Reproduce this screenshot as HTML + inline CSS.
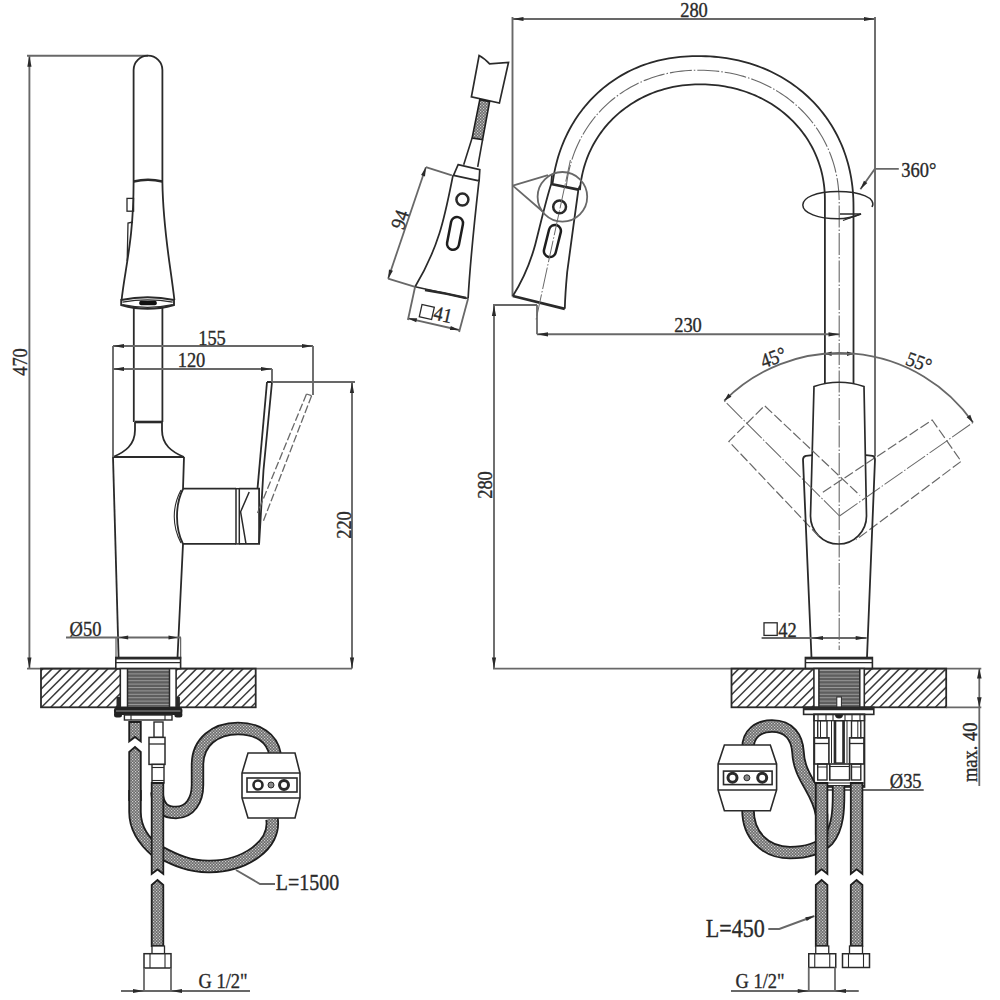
<!DOCTYPE html>
<html><head><meta charset="utf-8"><style>
html,body{margin:0;padding:0;background:#fff;width:1000px;height:1000px;overflow:hidden}
svg{display:block}
</style></head><body>
<svg width="1000" height="1000" viewBox="0 0 1000 1000">
<rect width="1000" height="1000" fill="#fff"/>
<defs><pattern id="knit" width="3" height="3" patternUnits="userSpaceOnUse"><rect width="3" height="3" fill="#6c6c6c"/><rect x="0" y="0" width="1.2" height="1.2" fill="#d0d0d0"/><rect x="1.5" y="1.5" width="1.2" height="1.2" fill="#d0d0d0"/></pattern></defs>
<line x1="29.40" y1="55.80" x2="29.40" y2="668.60" stroke="#686868" stroke-width="1.9" stroke-linecap="butt"/>
<path d="M29.40,55.80 L31.50,66.80 L27.30,66.80 Z" fill="#2a2a2a"/>
<path d="M29.40,668.60 L27.30,657.60 L31.50,657.60 Z" fill="#2a2a2a"/>
<line x1="27.00" y1="55.80" x2="148.00" y2="55.80" stroke="#686868" stroke-width="1.9" stroke-linecap="butt"/>
<line x1="27.00" y1="668.60" x2="352.00" y2="668.60" stroke="#686868" stroke-width="1.9" stroke-linecap="butt"/>
<text transform="translate(20.00,362.00) rotate(-90) scale(0.9,1)" x="0" y="6.97" font-family="Liberation Serif" font-size="20.5" fill="#2a2a2a" stroke="#2a2a2a" stroke-width="0.35" text-anchor="middle">470</text>
<path d="M133.6,182 L133.6,70 A14.4,14.4 0 0 1 162.4,70 L162.4,182" stroke="#2a2a2a" stroke-width="1.8" fill="none" />
<path d="M133.6,181.5 Q148,178 162.4,181.5" stroke="#2a2a2a" stroke-width="2.6" fill="none" />
<path d="M133.6,182 C133.6,240 125,268 121.6,300" stroke="#2a2a2a" stroke-width="1.8" fill="none" />
<path d="M162.4,182 C163,230 170,262 174.4,300" stroke="#2a2a2a" stroke-width="1.8" fill="none" />
<rect x="127.00" y="198.40" width="6.60" height="12.80" rx="0" stroke="#2a2a2a" stroke-width="1.3" fill="none"/>
<path d="M133,222 L128,223 L127.2,261" stroke="#2a2a2a" stroke-width="1.3" fill="none" />
<path d="M121.2,300 Q147.6,294.4 174,300 L174,305 Q147.6,312.6 121.2,305 Z" stroke="#2a2a2a" stroke-width="1.9" fill="none" />
<path d="M122.5,302.2 Q147.6,297.6 172.7,302.2" stroke="#2a2a2a" stroke-width="1.3" fill="none" />
<path d="M122.5,304.6 Q147.6,310 172.7,304.6" stroke="#2a2a2a" stroke-width="1.3" fill="none" />
<rect x="139.20" y="300.80" width="17.60" height="4.40" rx="2" stroke="#2a2a2a" stroke-width="0" fill="#111"/>
<line x1="133.80" y1="308.00" x2="133.80" y2="422.00" stroke="#2a2a2a" stroke-width="1.8" stroke-linecap="butt"/>
<line x1="162.40" y1="308.00" x2="162.40" y2="422.00" stroke="#2a2a2a" stroke-width="1.8" stroke-linecap="butt"/>
<line x1="135.00" y1="422.00" x2="162.00" y2="422.00" stroke="#2a2a2a" stroke-width="2.6" stroke-linecap="butt"/>
<path d="M135,422 L135,430 C135,445 125,452 113,457" stroke="#2a2a2a" stroke-width="1.8" fill="none" />
<path d="M162,422 L162,430 C162,445 172,452 184,457" stroke="#2a2a2a" stroke-width="1.8" fill="none" />
<line x1="113.00" y1="457.00" x2="184.00" y2="457.00" stroke="#2a2a2a" stroke-width="1.8" stroke-linecap="butt"/>
<path d="M113,457 L118.6,657.5" stroke="#2a2a2a" stroke-width="1.8" fill="none" />
<path d="M184,457 L183,489 C175,505 175,528 183,544 L177.5,657.5" stroke="#2a2a2a" stroke-width="1.8" fill="none" />
<path d="M181,490 C172,507 172,526 181,543" stroke="#2a2a2a" stroke-width="1.1" fill="none" />
<line x1="183.00" y1="488.70" x2="236.00" y2="488.70" stroke="#2a2a2a" stroke-width="1.8" stroke-linecap="butt"/>
<line x1="183.00" y1="543.90" x2="236.00" y2="543.90" stroke="#2a2a2a" stroke-width="1.8" stroke-linecap="butt"/>
<rect x="236.00" y="488.70" width="3.30" height="55.20" rx="0" stroke="#2a2a2a" stroke-width="1.5" fill="none"/>
<path d="M239.3,488.7 L259.1,488.7 L259.1,543.9 L239.3,543.9" stroke="#2a2a2a" stroke-width="1.8" fill="none" />
<path d="M249.2,492 L240.6,511.8 L246,543.9" stroke="#2a2a2a" stroke-width="1.5" fill="none" />
<path d="M267,382 L272,382 L263.5,470 L259.1,543.9" stroke="#2a2a2a" stroke-width="1.8" fill="none" />
<path d="M267,382 L257.5,488.7" stroke="#2a2a2a" stroke-width="1.8" fill="none" />
<line x1="311.60" y1="395.70" x2="263.00" y2="522.00" stroke="#686868" stroke-width="1.3" stroke-dasharray="8,2.5" stroke-linecap="butt"/>
<line x1="306.50" y1="394.00" x2="257.50" y2="513.00" stroke="#686868" stroke-width="1.3" stroke-dasharray="8,2.5" stroke-linecap="butt"/>
<path d="M306.5,394 L311.6,395.7" stroke="#686868" stroke-width="1.3" fill="none" />
<line x1="113.00" y1="346.00" x2="113.00" y2="457.00" stroke="#686868" stroke-width="1.9" stroke-linecap="butt"/>
<line x1="113.00" y1="346.00" x2="313.00" y2="346.00" stroke="#686868" stroke-width="1.9" stroke-linecap="butt"/>
<path d="M113.00,346.00 L124.00,343.90 L124.00,348.10 Z" fill="#2a2a2a"/>
<path d="M313.00,346.00 L302.00,348.10 L302.00,343.90 Z" fill="#2a2a2a"/>
<line x1="113.00" y1="369.00" x2="272.00" y2="369.00" stroke="#686868" stroke-width="1.9" stroke-linecap="butt"/>
<path d="M113.00,369.00 L124.00,366.90 L124.00,371.10 Z" fill="#2a2a2a"/>
<path d="M272.00,369.00 L261.00,371.10 L261.00,366.90 Z" fill="#2a2a2a"/>
<line x1="313.00" y1="346.00" x2="313.00" y2="395.00" stroke="#686868" stroke-width="1.9" stroke-linecap="butt"/>
<line x1="272.00" y1="369.00" x2="272.00" y2="382.00" stroke="#686868" stroke-width="1.9" stroke-linecap="butt"/>
<text transform="translate(212.00,338.00) rotate(0) scale(0.9,1)" x="0" y="6.97" font-family="Liberation Serif" font-size="20.5" fill="#2a2a2a" stroke="#2a2a2a" stroke-width="0.35" text-anchor="middle">155</text>
<text transform="translate(191.50,360.50) rotate(0) scale(0.9,1)" x="0" y="6.97" font-family="Liberation Serif" font-size="20.5" fill="#2a2a2a" stroke="#2a2a2a" stroke-width="0.35" text-anchor="middle">120</text>
<line x1="272.00" y1="382.00" x2="355.00" y2="382.00" stroke="#686868" stroke-width="1.9" stroke-linecap="butt"/>
<line x1="352.00" y1="382.00" x2="352.00" y2="668.40" stroke="#686868" stroke-width="1.9" stroke-linecap="butt"/>
<path d="M352.00,382.00 L354.10,393.00 L349.90,393.00 Z" fill="#2a2a2a"/>
<path d="M352.00,668.40 L349.90,657.40 L354.10,657.40 Z" fill="#2a2a2a"/>
<text transform="translate(344.00,525.00) rotate(-90) scale(0.9,1)" x="0" y="6.97" font-family="Liberation Serif" font-size="20.5" fill="#2a2a2a" stroke="#2a2a2a" stroke-width="0.35" text-anchor="middle">220</text>
<line x1="66.00" y1="637.50" x2="181.00" y2="637.50" stroke="#686868" stroke-width="1.9" stroke-linecap="butt"/>
<path d="M119.20,637.50 L128.20,635.40 L128.20,639.60 Z" fill="#2a2a2a"/>
<path d="M177.50,637.50 L168.50,639.60 L168.50,635.40 Z" fill="#2a2a2a"/>
<line x1="116.00" y1="637.50" x2="116.00" y2="659.00" stroke="#686868" stroke-width="1.3" stroke-linecap="butt"/>
<line x1="180.60" y1="637.50" x2="180.60" y2="659.00" stroke="#686868" stroke-width="1.3" stroke-linecap="butt"/>
<text transform="translate(85.50,628.60) rotate(0) scale(0.9,1)" x="0" y="6.97" font-family="Liberation Serif" font-size="20.5" fill="#2a2a2a" stroke="#2a2a2a" stroke-width="0.35" text-anchor="middle">Ø50</text>
<clipPath id="h1"><rect x="41" y="668.6" width="79.3" height="38.69999999999993"/></clipPath>
<g clip-path="url(#h1)">
<line x1="-5.00" y1="707.30" x2="33.70" y2="668.60" stroke="#3a3a3a" stroke-width="1.5" stroke-linecap="butt"/>
<line x1="4.30" y1="707.30" x2="43.00" y2="668.60" stroke="#3a3a3a" stroke-width="1.5" stroke-linecap="butt"/>
<line x1="13.60" y1="707.30" x2="52.30" y2="668.60" stroke="#3a3a3a" stroke-width="1.5" stroke-linecap="butt"/>
<line x1="22.90" y1="707.30" x2="61.60" y2="668.60" stroke="#3a3a3a" stroke-width="1.5" stroke-linecap="butt"/>
<line x1="32.20" y1="707.30" x2="70.90" y2="668.60" stroke="#3a3a3a" stroke-width="1.5" stroke-linecap="butt"/>
<line x1="41.50" y1="707.30" x2="80.20" y2="668.60" stroke="#3a3a3a" stroke-width="1.5" stroke-linecap="butt"/>
<line x1="50.80" y1="707.30" x2="89.50" y2="668.60" stroke="#3a3a3a" stroke-width="1.5" stroke-linecap="butt"/>
<line x1="60.10" y1="707.30" x2="98.80" y2="668.60" stroke="#3a3a3a" stroke-width="1.5" stroke-linecap="butt"/>
<line x1="69.40" y1="707.30" x2="108.10" y2="668.60" stroke="#3a3a3a" stroke-width="1.5" stroke-linecap="butt"/>
<line x1="78.70" y1="707.30" x2="117.40" y2="668.60" stroke="#3a3a3a" stroke-width="1.5" stroke-linecap="butt"/>
<line x1="88.00" y1="707.30" x2="126.70" y2="668.60" stroke="#3a3a3a" stroke-width="1.5" stroke-linecap="butt"/>
<line x1="97.30" y1="707.30" x2="136.00" y2="668.60" stroke="#3a3a3a" stroke-width="1.5" stroke-linecap="butt"/>
<line x1="106.60" y1="707.30" x2="145.30" y2="668.60" stroke="#3a3a3a" stroke-width="1.5" stroke-linecap="butt"/>
<line x1="115.90" y1="707.30" x2="154.60" y2="668.60" stroke="#3a3a3a" stroke-width="1.5" stroke-linecap="butt"/>
<line x1="125.20" y1="707.30" x2="163.90" y2="668.60" stroke="#3a3a3a" stroke-width="1.5" stroke-linecap="butt"/>
<line x1="134.50" y1="707.30" x2="173.20" y2="668.60" stroke="#3a3a3a" stroke-width="1.5" stroke-linecap="butt"/>
<line x1="143.80" y1="707.30" x2="182.50" y2="668.60" stroke="#3a3a3a" stroke-width="1.5" stroke-linecap="butt"/>
<line x1="153.10" y1="707.30" x2="191.80" y2="668.60" stroke="#3a3a3a" stroke-width="1.5" stroke-linecap="butt"/>
</g>
<clipPath id="h2"><rect x="176.1" y="668.6" width="79.6" height="38.69999999999993"/></clipPath>
<g clip-path="url(#h2)">
<line x1="130.10" y1="707.30" x2="168.80" y2="668.60" stroke="#3a3a3a" stroke-width="1.5" stroke-linecap="butt"/>
<line x1="139.40" y1="707.30" x2="178.10" y2="668.60" stroke="#3a3a3a" stroke-width="1.5" stroke-linecap="butt"/>
<line x1="148.70" y1="707.30" x2="187.40" y2="668.60" stroke="#3a3a3a" stroke-width="1.5" stroke-linecap="butt"/>
<line x1="158.00" y1="707.30" x2="196.70" y2="668.60" stroke="#3a3a3a" stroke-width="1.5" stroke-linecap="butt"/>
<line x1="167.30" y1="707.30" x2="206.00" y2="668.60" stroke="#3a3a3a" stroke-width="1.5" stroke-linecap="butt"/>
<line x1="176.60" y1="707.30" x2="215.30" y2="668.60" stroke="#3a3a3a" stroke-width="1.5" stroke-linecap="butt"/>
<line x1="185.90" y1="707.30" x2="224.60" y2="668.60" stroke="#3a3a3a" stroke-width="1.5" stroke-linecap="butt"/>
<line x1="195.20" y1="707.30" x2="233.90" y2="668.60" stroke="#3a3a3a" stroke-width="1.5" stroke-linecap="butt"/>
<line x1="204.50" y1="707.30" x2="243.20" y2="668.60" stroke="#3a3a3a" stroke-width="1.5" stroke-linecap="butt"/>
<line x1="213.80" y1="707.30" x2="252.50" y2="668.60" stroke="#3a3a3a" stroke-width="1.5" stroke-linecap="butt"/>
<line x1="223.10" y1="707.30" x2="261.80" y2="668.60" stroke="#3a3a3a" stroke-width="1.5" stroke-linecap="butt"/>
<line x1="232.40" y1="707.30" x2="271.10" y2="668.60" stroke="#3a3a3a" stroke-width="1.5" stroke-linecap="butt"/>
<line x1="241.70" y1="707.30" x2="280.40" y2="668.60" stroke="#3a3a3a" stroke-width="1.5" stroke-linecap="butt"/>
<line x1="251.00" y1="707.30" x2="289.70" y2="668.60" stroke="#3a3a3a" stroke-width="1.5" stroke-linecap="butt"/>
<line x1="260.30" y1="707.30" x2="299.00" y2="668.60" stroke="#3a3a3a" stroke-width="1.5" stroke-linecap="butt"/>
<line x1="269.60" y1="707.30" x2="308.30" y2="668.60" stroke="#3a3a3a" stroke-width="1.5" stroke-linecap="butt"/>
<line x1="278.90" y1="707.30" x2="317.60" y2="668.60" stroke="#3a3a3a" stroke-width="1.5" stroke-linecap="butt"/>
<line x1="288.20" y1="707.30" x2="326.90" y2="668.60" stroke="#3a3a3a" stroke-width="1.5" stroke-linecap="butt"/>
</g>
<rect x="41.00" y="668.60" width="214.70" height="38.70" rx="0" stroke="#2a2a2a" stroke-width="1.8" fill="none"/>
<rect x="115.80" y="657.50" width="64.80" height="11.10" rx="0" stroke="#2a2a2a" stroke-width="1.6" fill="#fff"/>
<line x1="115.80" y1="658.30" x2="180.60" y2="658.30" stroke="#2a2a2a" stroke-width="2.4" stroke-linecap="butt"/>
<line x1="115.80" y1="662.60" x2="180.60" y2="662.60" stroke="#2a2a2a" stroke-width="1.4" stroke-linecap="butt"/>
<rect x="120.30" y="668.60" width="55.80" height="38.70" rx="0" stroke="#2a2a2a" stroke-width="1.6" fill="#fff"/>
<rect x="127.50" y="669.00" width="42.00" height="38.00" rx="0" stroke="#2a2a2a" stroke-width="0" fill="#5e5e5e"/>
<line x1="127.50" y1="670.50" x2="169.50" y2="670.50" stroke="#a8a8a8" stroke-width="0.8" stroke-linecap="butt"/>
<line x1="127.50" y1="673.90" x2="169.50" y2="673.90" stroke="#a8a8a8" stroke-width="0.8" stroke-linecap="butt"/>
<line x1="127.50" y1="677.30" x2="169.50" y2="677.30" stroke="#a8a8a8" stroke-width="0.8" stroke-linecap="butt"/>
<line x1="127.50" y1="680.70" x2="169.50" y2="680.70" stroke="#a8a8a8" stroke-width="0.8" stroke-linecap="butt"/>
<line x1="127.50" y1="684.10" x2="169.50" y2="684.10" stroke="#a8a8a8" stroke-width="0.8" stroke-linecap="butt"/>
<line x1="127.50" y1="687.50" x2="169.50" y2="687.50" stroke="#a8a8a8" stroke-width="0.8" stroke-linecap="butt"/>
<line x1="127.50" y1="690.90" x2="169.50" y2="690.90" stroke="#a8a8a8" stroke-width="0.8" stroke-linecap="butt"/>
<line x1="127.50" y1="694.30" x2="169.50" y2="694.30" stroke="#a8a8a8" stroke-width="0.8" stroke-linecap="butt"/>
<line x1="127.50" y1="697.70" x2="169.50" y2="697.70" stroke="#a8a8a8" stroke-width="0.8" stroke-linecap="butt"/>
<line x1="127.50" y1="701.10" x2="169.50" y2="701.10" stroke="#a8a8a8" stroke-width="0.8" stroke-linecap="butt"/>
<line x1="127.50" y1="704.50" x2="169.50" y2="704.50" stroke="#a8a8a8" stroke-width="0.8" stroke-linecap="butt"/>
<line x1="127.50" y1="668.60" x2="127.50" y2="707.30" stroke="#2a2a2a" stroke-width="1.5" stroke-linecap="butt"/>
<line x1="169.50" y1="668.60" x2="169.50" y2="707.30" stroke="#2a2a2a" stroke-width="1.5" stroke-linecap="butt"/>
<rect x="116.50" y="697.00" width="3.80" height="10.30" rx="0" stroke="#2a2a2a" stroke-width="0" fill="#2a2a2a"/>
<rect x="176.10" y="697.00" width="3.80" height="10.30" rx="0" stroke="#2a2a2a" stroke-width="0" fill="#2a2a2a"/>
<rect x="114.00" y="707.30" width="68.40" height="7.70" rx="3" stroke="#2a2a2a" stroke-width="0" fill="#222"/>
<line x1="116.00" y1="711.00" x2="180.40" y2="711.00" stroke="#9a9a9a" stroke-width="1.2" stroke-linecap="butt"/>
<rect x="114.00" y="712.00" width="8.00" height="5.50" rx="2.5" stroke="#2a2a2a" stroke-width="0" fill="#222"/>
<rect x="174.40" y="712.00" width="8.00" height="5.50" rx="2.5" stroke="#2a2a2a" stroke-width="0" fill="#222"/>
<rect x="124.40" y="715.00" width="47.60" height="5.00" rx="0" stroke="#2a2a2a" stroke-width="1.4" fill="#fff"/>
<line x1="131.00" y1="715.00" x2="131.00" y2="720.00" stroke="#2a2a2a" stroke-width="1.1" stroke-linecap="butt"/>
<line x1="165.00" y1="715.00" x2="165.00" y2="720.00" stroke="#2a2a2a" stroke-width="1.1" stroke-linecap="butt"/>
<path d="M272,819 C276,845 245,866 210,866.5 C190,867 175,860 160,852" stroke="#1e1e1e" stroke-width="13.4" fill="none" stroke-linecap="butt" stroke-linejoin="round"/>
<path d="M272,819 C276,845 245,866 210,866.5 C190,867 175,860 160,852" stroke="url(#knit)" stroke-width="9.799999999999999" fill="none" stroke-linecap="butt" stroke-linejoin="round"/>
<path d="M157,792 C158,808 165,812.5 176,812.5 C190,812.5 197.5,800 197.5,785 L197.5,765 C197.5,742 215,728.5 238,728.5 C258,728.5 272,738 275,754" stroke="#1e1e1e" stroke-width="13.4" fill="none" stroke-linecap="butt" stroke-linejoin="round"/>
<path d="M157,792 C158,808 165,812.5 176,812.5 C190,812.5 197.5,800 197.5,785 L197.5,765 C197.5,742 215,728.5 238,728.5 C258,728.5 272,738 275,754" stroke="url(#knit)" stroke-width="9.799999999999999" fill="none" stroke-linecap="butt" stroke-linejoin="round"/>
<path d="M129.20,722.00 L140.80,722.00 L140.80,741.50 L135.00,737.00 L129.20,741.50 Z" fill="url(#knit)" stroke="#1e1e1e" stroke-width="1.8" stroke-linejoin="miter"/>
<path d="M129.20,752.00 L135.00,747.00 L140.80,752.00 L140.80,800.00 L129.20,800.00 Z" fill="url(#knit)" stroke="#1e1e1e" stroke-width="1.8" stroke-linejoin="miter"/>
<path d="M135,790 L135,812 C135,830 145,842 157,852" stroke="#1e1e1e" stroke-width="13.4" fill="none" stroke-linecap="butt" stroke-linejoin="round"/>
<path d="M135,790 L135,812 C135,830 145,842 157,852" stroke="url(#knit)" stroke-width="9.799999999999999" fill="none" stroke-linecap="butt" stroke-linejoin="round"/>
<rect x="154.00" y="722.00" width="9.00" height="15.40" rx="0" stroke="#2a2a2a" stroke-width="1.4" fill="#fff"/>
<rect x="149.00" y="737.40" width="16.00" height="27.00" rx="0" stroke="#2a2a2a" stroke-width="1.5" fill="#fff"/>
<line x1="149.00" y1="744.00" x2="165.00" y2="744.00" stroke="#2a2a2a" stroke-width="1.3" stroke-linecap="butt"/>
<rect x="152.00" y="764.40" width="12.00" height="18.60" rx="0" stroke="#2a2a2a" stroke-width="1.4" fill="#fff"/>
<line x1="152.00" y1="767.50" x2="164.00" y2="767.50" stroke="#2a2a2a" stroke-width="1.1" stroke-linecap="butt"/>
<line x1="152.00" y1="780.50" x2="164.00" y2="780.50" stroke="#2a2a2a" stroke-width="1.1" stroke-linecap="butt"/>
<path d="M151.70,783.00 L163.30,783.00 L163.30,874.00 L157.50,869.50 L151.70,874.00 Z" fill="url(#knit)" stroke="#1e1e1e" stroke-width="1.8" stroke-linejoin="miter"/>
<path d="M151.70,885.00 L157.50,880.00 L163.30,885.00 L163.30,946.00 L151.70,946.00 Z" fill="url(#knit)" stroke="#1e1e1e" stroke-width="1.8" stroke-linejoin="miter"/>
<path d="M248.00,753.00 L295.00,753.00 L300.00,773.00 L300.00,798.00 L295.00,818.00 L248.00,818.00 L242.00,798.00 L242.00,773.00 Z" stroke="#2a2a2a" stroke-width="1.6" fill="#fff" />
<line x1="242.00" y1="773.00" x2="300.00" y2="773.00" stroke="#2a2a2a" stroke-width="1.5" stroke-linecap="butt"/>
<line x1="242.00" y1="798.00" x2="300.00" y2="798.00" stroke="#2a2a2a" stroke-width="1.5" stroke-linecap="butt"/>
<rect x="247.00" y="778.00" width="50.00" height="14.00" rx="0" stroke="#2a2a2a" stroke-width="1.6" fill="#fff"/>
<circle cx="258.00" cy="785.00" r="4.50" stroke="#2a2a2a" stroke-width="2.6" fill="none"/>
<circle cx="284.00" cy="785.00" r="4.50" stroke="#2a2a2a" stroke-width="3.0" fill="none"/>
<circle cx="271.00" cy="785.00" r="3.00" stroke="#2a2a2a" stroke-width="1" fill="#888"/>
<rect x="152.00" y="946.00" width="12.50" height="7.70" rx="0" stroke="#2a2a2a" stroke-width="1.3" fill="#fff"/>
<rect x="144.00" y="953.70" width="27.00" height="14.30" rx="0" stroke="#2a2a2a" stroke-width="1.5" fill="#fff"/>
<line x1="150.00" y1="953.70" x2="150.00" y2="968.00" stroke="#2a2a2a" stroke-width="1.1" stroke-linecap="butt"/>
<line x1="165.00" y1="953.70" x2="165.00" y2="968.00" stroke="#2a2a2a" stroke-width="1.1" stroke-linecap="butt"/>
<line x1="144.00" y1="968.00" x2="144.00" y2="991.00" stroke="#686868" stroke-width="1.8" stroke-linecap="butt"/>
<line x1="171.00" y1="968.00" x2="171.00" y2="991.00" stroke="#686868" stroke-width="1.8" stroke-linecap="butt"/>
<line x1="121.00" y1="991.00" x2="250.00" y2="991.00" stroke="#686868" stroke-width="1.9" stroke-linecap="butt"/>
<path d="M144.00,991.00 L133.00,993.10 L133.00,988.90 Z" fill="#2a2a2a"/>
<path d="M171.00,991.00 L182.00,988.90 L182.00,993.10 Z" fill="#2a2a2a"/>
<text transform="translate(223.00,981.50) rotate(0) scale(0.9,1)" x="0" y="6.97" font-family="Liberation Serif" font-size="20.5" fill="#2a2a2a" stroke="#2a2a2a" stroke-width="0.35" text-anchor="middle">G 1/2"</text>
<path d="M275,884 L260,884 L236,870" stroke="#686868" stroke-width="1.9" fill="none" />
<text transform="translate(307.50,882.80) rotate(0) scale(0.9,1)" x="0" y="7.55" font-family="Liberation Serif" font-size="22.2" fill="#2a2a2a" stroke="#2a2a2a" stroke-width="0.35" text-anchor="middle">L=1500</text>
<path d="M479.1,55.5 Q484,58 489.6,63.9 L508.5,62.5 L499.4,103.1 L471.4,96.8 Z" stroke="#2a2a2a" stroke-width="1.7" fill="none" />
<path d="M479.8,99.6 L489.6,101.7 L482.6,139.5 L472.1,138.1 Z" fill="url(#knit)" stroke="#1e1e1e" stroke-width="1.6"/>
<path d="M472.1,138.1 L463.7,164.7 M482.6,139.5 L477.7,166.8" stroke="#2a2a2a" stroke-width="1.6" fill="none" />
<path d="M458.10,164.70 L479.80,169.60 L479.10,180.90 L453.50,175.30 Z" stroke="#2a2a2a" stroke-width="1.7" fill="none" />
<path d="M453,175.3 C445,215 440,245 415.1,286.8" stroke="#2a2a2a" stroke-width="1.7" fill="none" />
<path d="M478.9,181.6 C474,225 470,265 468.1,298.5" stroke="#2a2a2a" stroke-width="1.7" fill="none" />
<path d="M415.1,286.8 L468.1,298.5" stroke="#2a2a2a" stroke-width="1.5" fill="none" />
<path d="M425,290 Q445,293 466,298" stroke="#2a2a2a" stroke-width="2.6" fill="none" />
<circle cx="462.40" cy="199.60" r="6.00" stroke="#2a2a2a" stroke-width="2.5" fill="none"/>
<rect x="-6" y="-16.6" width="12" height="33.2" rx="6" transform="translate(455 233.4) rotate(11)" stroke="#1e1e1e" stroke-width="2.5" fill="none"/>
<line x1="425.90" y1="167.20" x2="388.10" y2="278.70" stroke="#686868" stroke-width="1.8" stroke-linecap="butt"/>
<path d="M425.90,167.20 L425.02,176.40 L421.04,175.06 Z" fill="#2a2a2a"/>
<path d="M388.10,278.70 L388.98,269.50 L392.96,270.84 Z" fill="#2a2a2a"/>
<line x1="425.90" y1="167.20" x2="451.90" y2="175.30" stroke="#686868" stroke-width="1.8" stroke-linecap="butt"/>
<line x1="388.10" y1="278.70" x2="415.10" y2="286.80" stroke="#686868" stroke-width="1.8" stroke-linecap="butt"/>
<text transform="translate(399.80,219.40) rotate(-71.3) scale(0.9,1)" x="0" y="6.97" font-family="Liberation Serif" font-size="20.5" fill="#2a2a2a" stroke="#2a2a2a" stroke-width="0.35" text-anchor="middle">94</text>
<line x1="407.90" y1="318.30" x2="459.10" y2="330.00" stroke="#686868" stroke-width="1.8" stroke-linecap="butt"/>
<path d="M407.90,318.30 L417.14,318.23 L416.22,322.33 Z" fill="#2a2a2a"/>
<path d="M459.10,330.00 L449.86,330.07 L450.78,325.97 Z" fill="#2a2a2a"/>
<line x1="415.10" y1="286.80" x2="407.90" y2="320.00" stroke="#686868" stroke-width="1.8" stroke-linecap="butt"/>
<line x1="468.10" y1="298.50" x2="459.10" y2="332.00" stroke="#686868" stroke-width="1.8" stroke-linecap="butt"/>
<rect x="-6.3" y="-6.3" width="12.6" height="12.6" transform="translate(426.8 312) rotate(12.6)" stroke="#2a2a2a" stroke-width="1.3" fill="none"/>
<text transform="translate(443.00,314.50) rotate(12.6) scale(0.9,1)" x="0" y="6.97" font-family="Liberation Serif" font-size="20.5" fill="#2a2a2a" stroke="#2a2a2a" stroke-width="0.35" text-anchor="middle">41</text>
<line x1="512.50" y1="19.00" x2="875.00" y2="19.00" stroke="#686868" stroke-width="1.9" stroke-linecap="butt"/>
<path d="M512.50,19.00 L523.50,16.90 L523.50,21.10 Z" fill="#2a2a2a"/>
<path d="M875.00,19.00 L864.00,21.10 L864.00,16.90 Z" fill="#2a2a2a"/>
<text transform="translate(694.00,10.00) rotate(0) scale(0.9,1)" x="0" y="6.97" font-family="Liberation Serif" font-size="20.5" fill="#2a2a2a" stroke="#2a2a2a" stroke-width="0.35" text-anchor="middle">280</text>
<line x1="512.50" y1="17.00" x2="512.50" y2="296.50" stroke="#686868" stroke-width="1.9" stroke-linecap="butt"/>
<line x1="875.00" y1="17.00" x2="875.00" y2="456.40" stroke="#686868" stroke-width="1.9" stroke-linecap="butt"/>
<path d="M552.63,183.20 L553.17,179.31 L553.80,175.46 L554.51,171.66 L555.30,167.90 L556.18,164.18 L557.14,160.50 L558.19,156.87 L559.31,153.29 L560.52,149.74 L561.82,146.25 L563.19,142.80 L564.64,139.40 L566.17,136.05 L567.78,132.75 L569.47,129.50 L571.24,126.30 L573.08,123.16 L574.99,120.07 L576.98,117.05 L579.04,114.08 L581.18,111.17 L583.38,108.32 L585.66,105.54 L588.00,102.82 L590.41,100.16 L592.89,97.57 L595.43,95.06 L598.04,92.61 L600.71,90.23 L603.44,87.92 L606.23,85.68 L609.08,83.52 L611.98,81.44 L614.95,79.43 L617.96,77.49 L621.03,75.64 L624.15,73.87 L627.33,72.17 L630.55,70.56 L633.82,69.02 L637.13,67.58 L640.50,66.21 L643.90,64.93 L647.35,63.73 L650.85,62.62 L654.38,61.59 L657.96,60.65 L661.58,59.80 L665.24,59.04 L668.94,58.36 L672.69,57.77 L676.48,57.27 L680.32,56.86 L684.23,56.53 L688.21,56.30 L692.29,56.16 L696.62,56.10 L701.41,56.13 L705.82,56.26 L710.10,56.47 L714.30,56.77 L718.43,57.16 L722.50,57.64 L726.52,58.21 L730.49,58.87 L734.42,59.61 L738.31,60.45 L742.15,61.37 L745.94,62.37 L749.69,63.46 L753.40,64.64 L757.06,65.90 L760.67,67.25 L764.23,68.68 L767.74,70.19 L771.20,71.79 L774.61,73.46 L777.97,75.22 L781.27,77.05 L784.51,78.97 L787.69,80.96 L790.82,83.03 L793.88,85.17 L796.88,87.39 L799.82,89.68 L802.69,92.04 L805.50,94.48 L808.24,96.98 L810.91,99.55 L813.50,102.19 L816.03,104.90 L818.48,107.67 L820.86,110.50 L823.16,113.39 L825.39,116.35 L827.54,119.36 L829.61,122.43 L831.60,125.56 L833.51,128.75 L835.33,131.98 L837.08,135.27 L838.74,138.61 L840.31,142.00 L841.80,145.44 L843.20,148.92 L844.52,152.46 L845.75,156.03 L846.89,159.65 L847.94,163.32 L848.90,167.02 L849.77,170.77 L850.55,174.57 L851.24,178.40 L851.84,182.29 L852.35,186.22 L852.76,190.20 L853.08,194.25 L853.32,198.38 L853.45,202.63 L853.50,207.20 L853.50,384" stroke="#2a2a2a" stroke-width="1.8" fill="none" />
<path d="M579.96,190.20 L580.23,187.16 L580.57,184.16 L581.00,181.17 L581.50,178.21 L582.07,175.27 L582.72,172.36 L583.45,169.47 L584.24,166.61 L585.12,163.77 L586.06,160.97 L587.08,158.19 L588.17,155.45 L589.33,152.73 L590.57,150.05 L591.87,147.41 L593.24,144.80 L594.68,142.23 L596.19,139.70 L597.76,137.21 L599.40,134.77 L601.11,132.36 L602.87,130.01 L604.70,127.69 L606.60,125.43 L608.55,123.21 L610.56,121.05 L612.63,118.93 L614.76,116.87 L616.94,114.86 L619.18,112.91 L621.46,111.02 L623.81,109.18 L626.20,107.40 L628.64,105.68 L631.13,104.02 L633.66,102.42 L636.24,100.88 L638.86,99.41 L641.52,98.00 L644.23,96.66 L646.97,95.39 L649.75,94.18 L652.56,93.03 L655.41,91.96 L658.30,90.95 L661.21,90.02 L664.16,89.15 L667.13,88.35 L670.13,87.63 L673.16,86.98 L676.21,86.39 L679.29,85.89 L682.40,85.45 L685.53,85.08 L688.68,84.79 L691.86,84.57 L695.09,84.43 L698.37,84.36 L701.86,84.36 L705.26,84.44 L708.60,84.58 L711.90,84.81 L715.17,85.10 L718.42,85.47 L721.64,85.91 L724.83,86.42 L728.00,87.01 L731.14,87.66 L734.25,88.39 L737.33,89.19 L740.39,90.06 L743.41,91.00 L746.40,92.01 L749.35,93.09 L752.27,94.23 L755.15,95.45 L758.00,96.73 L760.80,98.07 L763.56,99.48 L766.28,100.96 L768.95,102.50 L771.58,104.10 L774.15,105.76 L776.68,107.48 L779.16,109.27 L781.59,111.11 L783.96,113.01 L786.28,114.96 L788.54,116.97 L790.74,119.03 L792.89,121.15 L794.97,123.32 L796.99,125.54 L798.95,127.80 L800.85,130.12 L802.68,132.48 L804.44,134.89 L806.14,137.33 L807.77,139.83 L809.33,142.36 L810.82,144.93 L812.24,147.54 L813.59,150.18 L814.86,152.87 L816.06,155.58 L817.19,158.33 L818.25,161.10 L819.22,163.91 L820.12,166.75 L820.95,169.61 L821.70,172.50 L822.37,175.41 L822.96,178.35 L823.47,181.31 L823.91,184.30 L824.27,187.31 L824.54,190.35 L824.74,193.42 L824.86,196.53 L824.90,199.75 L824.90,384" stroke="#2a2a2a" stroke-width="1.8" fill="none" />
<path d="M566.29,186.50 L566.71,183.04 L567.21,179.61 L567.79,176.22 L568.45,172.86 L569.19,169.53 L570.01,166.24 L570.91,162.98 L571.88,159.76 L572.94,156.57 L574.07,153.42 L575.27,150.31 L576.56,147.24 L577.92,144.21 L579.35,141.22 L580.86,138.28 L582.43,135.38 L584.09,132.52 L585.81,129.72 L587.60,126.96 L589.46,124.26 L591.39,121.61 L593.38,119.01 L595.45,116.46 L597.57,113.97 L599.76,111.54 L602.01,109.17 L604.33,106.85 L606.70,104.60 L609.13,102.41 L611.62,100.28 L614.16,98.22 L616.76,96.23 L619.42,94.30 L622.12,92.44 L624.88,90.65 L627.68,88.93 L630.53,87.27 L633.43,85.70 L636.38,84.19 L639.36,82.76 L642.39,81.40 L645.46,80.12 L648.57,78.91 L651.72,77.78 L654.91,76.72 L658.13,75.75 L661.39,74.85 L664.68,74.03 L668.00,73.29 L671.36,72.63 L674.75,72.05 L678.18,71.55 L681.64,71.13 L685.14,70.80 L688.69,70.54 L692.29,70.36 L695.99,70.27 L700.03,70.25 L703.99,70.32 L707.83,70.47 L711.59,70.70 L715.30,71.01 L718.97,71.41 L722.59,71.88 L726.19,72.43 L729.74,73.07 L733.26,73.78 L736.75,74.57 L740.20,75.45 L743.61,76.40 L746.99,77.43 L750.32,78.53 L753.62,79.71 L756.88,80.97 L760.09,82.31 L763.26,83.71 L766.38,85.20 L769.45,86.75 L772.48,88.38 L775.46,90.08 L778.38,91.85 L781.26,93.68 L784.08,95.59 L786.84,97.56 L789.54,99.60 L792.19,101.71 L794.78,103.88 L797.30,106.11 L799.76,108.40 L802.16,110.76 L804.49,113.17 L806.76,115.64 L808.96,118.17 L811.09,120.75 L813.15,123.39 L815.13,126.07 L817.05,128.81 L818.89,131.60 L820.66,134.44 L822.35,137.33 L823.96,140.26 L825.50,143.23 L826.96,146.25 L828.34,149.30 L829.64,152.40 L830.86,155.54 L832.00,158.72 L833.06,161.93 L834.04,165.17 L834.93,168.45 L835.74,171.77 L836.46,175.12 L837.10,178.50 L837.66,181.91 L838.13,185.37 L838.51,188.85 L838.81,192.39 L839.03,195.97 L839.16,199.63 L839.20,203.50 L839.20,650" stroke="#686868" stroke-width="1.1" fill="none" stroke-dasharray="22,2,1.5,2" />
<path d="M552,175.2 L551.2,184 C546,200 541,222 535.2,244.8 C531,260 523,280 512.8,296" stroke="#2a2a2a" stroke-width="1.8" fill="none" />
<path d="M580,185.6 L578.4,189.6 C575,215 570,250 567.2,272 C566,285 565,300 564.8,308.8" stroke="#2a2a2a" stroke-width="1.8" fill="none" />
<path d="M512.8,296 L564.8,308.8" stroke="#2a2a2a" stroke-width="2.8" fill="none" />
<line x1="551.20" y1="184.00" x2="578.40" y2="189.60" stroke="#2a2a2a" stroke-width="2.8" stroke-linecap="butt"/>
<circle cx="559.60" cy="206.80" r="6.40" stroke="#2a2a2a" stroke-width="2.5" fill="none"/>
<rect x="-6" y="-16.4" width="12" height="32.8" rx="6" transform="translate(552.4 241) rotate(14)" stroke="#1e1e1e" stroke-width="2.5" fill="none"/>
<path d="M570.4,160 L536,320" stroke="#686868" stroke-width="1.0" fill="none" stroke-dasharray="22,2,1.5,2" />
<circle cx="562.40" cy="196.80" r="24.80" stroke="#686868" stroke-width="1.8" fill="none"/>
<path d="M512.8,185.6 L548,175.2 M512.8,185.6 L542.4,211.2" stroke="#686868" stroke-width="1.8" fill="none" />
<line x1="537.00" y1="334.30" x2="839.50" y2="334.30" stroke="#686868" stroke-width="1.9" stroke-linecap="butt"/>
<path d="M537.00,334.30 L548.00,332.20 L548.00,336.40 Z" fill="#2a2a2a"/>
<path d="M839.50,334.30 L828.50,336.40 L828.50,332.20 Z" fill="#2a2a2a"/>
<line x1="537.00" y1="305.00" x2="537.00" y2="334.30" stroke="#686868" stroke-width="1.8" stroke-linecap="butt"/>
<text transform="translate(688.00,325.00) rotate(0) scale(0.9,1)" x="0" y="6.97" font-family="Liberation Serif" font-size="20.5" fill="#2a2a2a" stroke="#2a2a2a" stroke-width="0.35" text-anchor="middle">230</text>
<line x1="493.00" y1="305.00" x2="537.00" y2="305.00" stroke="#686868" stroke-width="1.9" stroke-linecap="butt"/>
<line x1="494.00" y1="305.00" x2="494.00" y2="668.60" stroke="#686868" stroke-width="1.9" stroke-linecap="butt"/>
<path d="M494.00,305.00 L496.10,316.00 L491.90,316.00 Z" fill="#2a2a2a"/>
<path d="M494.00,668.60 L491.90,657.60 L496.10,657.60 Z" fill="#2a2a2a"/>
<line x1="493.00" y1="668.60" x2="981.30" y2="668.60" stroke="#686868" stroke-width="1.9" stroke-linecap="butt"/>
<text transform="translate(485.00,485.00) rotate(-90) scale(0.9,1)" x="0" y="6.97" font-family="Liberation Serif" font-size="20.5" fill="#2a2a2a" stroke="#2a2a2a" stroke-width="0.35" text-anchor="middle">280</text>
<path d="M898.8,168.9 L874.8,168.9 L860.4,189.2" stroke="#686868" stroke-width="1.8" fill="none" />
<path d="M860.40,189.20 L863.93,180.66 L867.35,183.11 Z" fill="#2a2a2a"/>
<text transform="translate(918.80,169.60) rotate(0) scale(0.9,1)" x="0" y="6.97" font-family="Liberation Serif" font-size="20.5" fill="#2a2a2a" stroke="#2a2a2a" stroke-width="0.35" text-anchor="middle">360°</text>
<path d="M872,207 C877,198 860,191.6 838,191.6 C815,191.6 802.8,198 802.8,205 C802.8,213 818,218.8 838,218.8 C848,218.8 856,216 861,214" stroke="#2a2a2a" stroke-width="1.5" fill="none" />
<path d="M840,214 L861,214 L843,220.5" stroke="#2a2a2a" stroke-width="1.3" fill="none" />
<path d="M724.24,400.74 A163,163 0 0 1 973.02,422.51" stroke="#686868" stroke-width="1.8" fill="none" />
<path d="M724.24,400.74 L728.34,393.53 L731.45,396.64 Z" fill="#2a2a2a"/>
<path d="M973.02,422.51 L966.65,417.19 L970.26,414.68 Z" fill="#2a2a2a"/>
<path d="M824.60,353.80 L831.60,351.60 L831.60,356.00 Z" fill="#2a2a2a"/>
<path d="M854.00,353.80 L847.00,356.00 L847.00,351.60 Z" fill="#2a2a2a"/>
<line x1="824.60" y1="353.80" x2="854.00" y2="353.80" stroke="#686868" stroke-width="1.8" stroke-linecap="butt"/>
<text transform="translate(773.20,357.40) rotate(-20) scale(0.9,1)" x="0" y="6.97" font-family="Liberation Serif" font-size="20.5" fill="#2a2a2a" stroke="#2a2a2a" stroke-width="0.35" text-anchor="middle">45°</text>
<text transform="translate(919.00,362.00) rotate(20) scale(0.9,1)" x="0" y="6.97" font-family="Liberation Serif" font-size="20.5" fill="#2a2a2a" stroke="#2a2a2a" stroke-width="0.35" text-anchor="middle">55°</text>
<path d="M814,386.5 Q839,378 864,386.5 L866.5,516 A28,28 0 0 1 810.5,516 Z" stroke="#2a2a2a" stroke-width="1.7" fill="none" />
<g transform="rotate(-45 839.5 516)">
<path d="M810.5,516 L814,385 L864.5,385 L868.5,516" stroke="#686868" stroke-width="1.2" fill="none" stroke-dasharray="10,3" />
<line x1="839.50" y1="516.00" x2="839.50" y2="353.00" stroke="#686868" stroke-width="1.0" stroke-dasharray="22,2,1.5,2" stroke-linecap="butt"/>
</g>
<g transform="rotate(55 839.5 516)">
<path d="M810.5,516 L814,385 L864.5,385 L868.5,516" stroke="#686868" stroke-width="1.2" fill="none" stroke-dasharray="10,3" />
<line x1="839.50" y1="516.00" x2="839.50" y2="353.00" stroke="#686868" stroke-width="1.0" stroke-dasharray="22,2,1.5,2" stroke-linecap="butt"/>
</g>
<path d="M812.6,455.2 L806,455.8 Q803,456.5 803,459.5 L811.5,657.5" stroke="#2a2a2a" stroke-width="1.8" fill="none" />
<path d="M866,455.2 L872.5,455.8 Q875,456.5 875,459.5 L867,657.5" stroke="#2a2a2a" stroke-width="1.8" fill="none" />
<line x1="761.60" y1="638.00" x2="866.70" y2="638.00" stroke="#686868" stroke-width="1.8" stroke-linecap="butt"/>
<path d="M812.00,638.00 L823.00,635.90 L823.00,640.10 Z" fill="#2a2a2a"/>
<path d="M866.70,638.00 L855.70,640.10 L855.70,635.90 Z" fill="#2a2a2a"/>
<rect x="764.00" y="622.80" width="13.20" height="12.60" rx="0" stroke="#2a2a2a" stroke-width="1.3" fill="none"/>
<text transform="translate(787.40,629.70) rotate(0) scale(0.9,1)" x="0" y="6.97" font-family="Liberation Serif" font-size="20.5" fill="#2a2a2a" stroke="#2a2a2a" stroke-width="0.35" text-anchor="middle">42</text>
<rect x="805.40" y="657.50" width="67.00" height="11.10" rx="0" stroke="#2a2a2a" stroke-width="1.6" fill="#fff"/>
<line x1="805.40" y1="658.30" x2="872.40" y2="658.30" stroke="#2a2a2a" stroke-width="2.4" stroke-linecap="butt"/>
<line x1="805.40" y1="662.60" x2="872.40" y2="662.60" stroke="#2a2a2a" stroke-width="1.4" stroke-linecap="butt"/>
<clipPath id="h3"><rect x="731.5" y="668.6" width="82.39999999999998" height="38.69999999999993"/></clipPath>
<g clip-path="url(#h3)">
<line x1="691.00" y1="707.30" x2="729.70" y2="668.60" stroke="#3a3a3a" stroke-width="1.5" stroke-linecap="butt"/>
<line x1="700.30" y1="707.30" x2="739.00" y2="668.60" stroke="#3a3a3a" stroke-width="1.5" stroke-linecap="butt"/>
<line x1="709.60" y1="707.30" x2="748.30" y2="668.60" stroke="#3a3a3a" stroke-width="1.5" stroke-linecap="butt"/>
<line x1="718.90" y1="707.30" x2="757.60" y2="668.60" stroke="#3a3a3a" stroke-width="1.5" stroke-linecap="butt"/>
<line x1="728.20" y1="707.30" x2="766.90" y2="668.60" stroke="#3a3a3a" stroke-width="1.5" stroke-linecap="butt"/>
<line x1="737.50" y1="707.30" x2="776.20" y2="668.60" stroke="#3a3a3a" stroke-width="1.5" stroke-linecap="butt"/>
<line x1="746.80" y1="707.30" x2="785.50" y2="668.60" stroke="#3a3a3a" stroke-width="1.5" stroke-linecap="butt"/>
<line x1="756.10" y1="707.30" x2="794.80" y2="668.60" stroke="#3a3a3a" stroke-width="1.5" stroke-linecap="butt"/>
<line x1="765.40" y1="707.30" x2="804.10" y2="668.60" stroke="#3a3a3a" stroke-width="1.5" stroke-linecap="butt"/>
<line x1="774.70" y1="707.30" x2="813.40" y2="668.60" stroke="#3a3a3a" stroke-width="1.5" stroke-linecap="butt"/>
<line x1="784.00" y1="707.30" x2="822.70" y2="668.60" stroke="#3a3a3a" stroke-width="1.5" stroke-linecap="butt"/>
<line x1="793.30" y1="707.30" x2="832.00" y2="668.60" stroke="#3a3a3a" stroke-width="1.5" stroke-linecap="butt"/>
<line x1="802.60" y1="707.30" x2="841.30" y2="668.60" stroke="#3a3a3a" stroke-width="1.5" stroke-linecap="butt"/>
<line x1="811.90" y1="707.30" x2="850.60" y2="668.60" stroke="#3a3a3a" stroke-width="1.5" stroke-linecap="butt"/>
<line x1="821.20" y1="707.30" x2="859.90" y2="668.60" stroke="#3a3a3a" stroke-width="1.5" stroke-linecap="butt"/>
<line x1="830.50" y1="707.30" x2="869.20" y2="668.60" stroke="#3a3a3a" stroke-width="1.5" stroke-linecap="butt"/>
<line x1="839.80" y1="707.30" x2="878.50" y2="668.60" stroke="#3a3a3a" stroke-width="1.5" stroke-linecap="butt"/>
<line x1="849.10" y1="707.30" x2="887.80" y2="668.60" stroke="#3a3a3a" stroke-width="1.5" stroke-linecap="butt"/>
</g>
<clipPath id="h4"><rect x="864.3" y="668.6" width="81.90000000000009" height="38.69999999999993"/></clipPath>
<g clip-path="url(#h4)">
<line x1="823.80" y1="707.30" x2="862.50" y2="668.60" stroke="#3a3a3a" stroke-width="1.5" stroke-linecap="butt"/>
<line x1="833.10" y1="707.30" x2="871.80" y2="668.60" stroke="#3a3a3a" stroke-width="1.5" stroke-linecap="butt"/>
<line x1="842.40" y1="707.30" x2="881.10" y2="668.60" stroke="#3a3a3a" stroke-width="1.5" stroke-linecap="butt"/>
<line x1="851.70" y1="707.30" x2="890.40" y2="668.60" stroke="#3a3a3a" stroke-width="1.5" stroke-linecap="butt"/>
<line x1="861.00" y1="707.30" x2="899.70" y2="668.60" stroke="#3a3a3a" stroke-width="1.5" stroke-linecap="butt"/>
<line x1="870.30" y1="707.30" x2="909.00" y2="668.60" stroke="#3a3a3a" stroke-width="1.5" stroke-linecap="butt"/>
<line x1="879.60" y1="707.30" x2="918.30" y2="668.60" stroke="#3a3a3a" stroke-width="1.5" stroke-linecap="butt"/>
<line x1="888.90" y1="707.30" x2="927.60" y2="668.60" stroke="#3a3a3a" stroke-width="1.5" stroke-linecap="butt"/>
<line x1="898.20" y1="707.30" x2="936.90" y2="668.60" stroke="#3a3a3a" stroke-width="1.5" stroke-linecap="butt"/>
<line x1="907.50" y1="707.30" x2="946.20" y2="668.60" stroke="#3a3a3a" stroke-width="1.5" stroke-linecap="butt"/>
<line x1="916.80" y1="707.30" x2="955.50" y2="668.60" stroke="#3a3a3a" stroke-width="1.5" stroke-linecap="butt"/>
<line x1="926.10" y1="707.30" x2="964.80" y2="668.60" stroke="#3a3a3a" stroke-width="1.5" stroke-linecap="butt"/>
<line x1="935.40" y1="707.30" x2="974.10" y2="668.60" stroke="#3a3a3a" stroke-width="1.5" stroke-linecap="butt"/>
<line x1="944.70" y1="707.30" x2="983.40" y2="668.60" stroke="#3a3a3a" stroke-width="1.5" stroke-linecap="butt"/>
<line x1="954.00" y1="707.30" x2="992.70" y2="668.60" stroke="#3a3a3a" stroke-width="1.5" stroke-linecap="butt"/>
<line x1="963.30" y1="707.30" x2="1002.00" y2="668.60" stroke="#3a3a3a" stroke-width="1.5" stroke-linecap="butt"/>
<line x1="972.60" y1="707.30" x2="1011.30" y2="668.60" stroke="#3a3a3a" stroke-width="1.5" stroke-linecap="butt"/>
<line x1="981.90" y1="707.30" x2="1020.60" y2="668.60" stroke="#3a3a3a" stroke-width="1.5" stroke-linecap="butt"/>
</g>
<rect x="731.50" y="668.60" width="214.70" height="38.70" rx="0" stroke="#2a2a2a" stroke-width="1.8" fill="none"/>
<rect x="813.90" y="668.60" width="50.40" height="38.70" rx="0" stroke="#2a2a2a" stroke-width="1.6" fill="#fff"/>
<rect x="818.90" y="669.00" width="40.90" height="38.00" rx="0" stroke="#2a2a2a" stroke-width="0" fill="#5e5e5e"/>
<line x1="818.90" y1="670.50" x2="859.80" y2="670.50" stroke="#a8a8a8" stroke-width="0.8" stroke-linecap="butt"/>
<line x1="818.90" y1="673.90" x2="859.80" y2="673.90" stroke="#a8a8a8" stroke-width="0.8" stroke-linecap="butt"/>
<line x1="818.90" y1="677.30" x2="859.80" y2="677.30" stroke="#a8a8a8" stroke-width="0.8" stroke-linecap="butt"/>
<line x1="818.90" y1="680.70" x2="859.80" y2="680.70" stroke="#a8a8a8" stroke-width="0.8" stroke-linecap="butt"/>
<line x1="818.90" y1="684.10" x2="859.80" y2="684.10" stroke="#a8a8a8" stroke-width="0.8" stroke-linecap="butt"/>
<line x1="818.90" y1="687.50" x2="859.80" y2="687.50" stroke="#a8a8a8" stroke-width="0.8" stroke-linecap="butt"/>
<line x1="818.90" y1="690.90" x2="859.80" y2="690.90" stroke="#a8a8a8" stroke-width="0.8" stroke-linecap="butt"/>
<line x1="818.90" y1="694.30" x2="859.80" y2="694.30" stroke="#a8a8a8" stroke-width="0.8" stroke-linecap="butt"/>
<line x1="818.90" y1="697.70" x2="859.80" y2="697.70" stroke="#a8a8a8" stroke-width="0.8" stroke-linecap="butt"/>
<line x1="818.90" y1="701.10" x2="859.80" y2="701.10" stroke="#a8a8a8" stroke-width="0.8" stroke-linecap="butt"/>
<line x1="818.90" y1="704.50" x2="859.80" y2="704.50" stroke="#a8a8a8" stroke-width="0.8" stroke-linecap="butt"/>
<line x1="818.90" y1="668.60" x2="818.90" y2="707.30" stroke="#2a2a2a" stroke-width="1.5" stroke-linecap="butt"/>
<line x1="859.80" y1="668.60" x2="859.80" y2="707.30" stroke="#2a2a2a" stroke-width="1.5" stroke-linecap="butt"/>
<rect x="836.80" y="697.00" width="4.60" height="10.30" rx="0" stroke="#2a2a2a" stroke-width="1.0" fill="#fff"/>
<rect x="803.60" y="707.30" width="70.20" height="7.10" rx="0" stroke="#2a2a2a" stroke-width="1.6" fill="#fff"/>
<line x1="803.60" y1="708.70" x2="873.80" y2="708.70" stroke="#2a2a2a" stroke-width="3.0" stroke-linecap="butt"/>
<line x1="946.20" y1="707.30" x2="981.30" y2="707.30" stroke="#686868" stroke-width="1.8" stroke-linecap="butt"/>
<line x1="979.30" y1="668.60" x2="979.30" y2="786.00" stroke="#686868" stroke-width="1.8" stroke-linecap="butt"/>
<path d="M979.30,668.60 L981.60,678.60 L977.00,678.60 Z" fill="#2a2a2a"/>
<path d="M979.30,707.30 L977.00,697.30 L981.60,697.30 Z" fill="#2a2a2a"/>
<text transform="translate(970.00,752.30) rotate(-90) scale(0.9,1)" x="0" y="6.97" font-family="Liberation Serif" font-size="20.5" fill="#2a2a2a" stroke="#2a2a2a" stroke-width="0.35" text-anchor="middle">max. 40</text>
<rect x="814.00" y="714.40" width="50.50" height="72.60" rx="0" stroke="#2a2a2a" stroke-width="1.7" fill="#fff"/>
<rect x="814.00" y="714.40" width="50.50" height="6.30" rx="0" stroke="#2a2a2a" stroke-width="1.3" fill="none"/>
<line x1="818.00" y1="714.40" x2="818.00" y2="720.70" stroke="#2a2a2a" stroke-width="1.1" stroke-linecap="butt"/>
<line x1="826.00" y1="714.40" x2="826.00" y2="720.70" stroke="#2a2a2a" stroke-width="1.1" stroke-linecap="butt"/>
<line x1="833.00" y1="714.40" x2="833.00" y2="720.70" stroke="#2a2a2a" stroke-width="1.1" stroke-linecap="butt"/>
<line x1="845.00" y1="714.40" x2="845.00" y2="720.70" stroke="#2a2a2a" stroke-width="1.1" stroke-linecap="butt"/>
<line x1="852.00" y1="714.40" x2="852.00" y2="720.70" stroke="#2a2a2a" stroke-width="1.1" stroke-linecap="butt"/>
<line x1="860.00" y1="714.40" x2="860.00" y2="720.70" stroke="#2a2a2a" stroke-width="1.1" stroke-linecap="butt"/>
<rect x="817.70" y="720.70" width="9.30" height="17.10" rx="0" stroke="#2a2a2a" stroke-width="1.4" fill="none"/>
<rect x="851.50" y="720.70" width="9.30" height="17.10" rx="0" stroke="#2a2a2a" stroke-width="1.4" fill="none"/>
<line x1="820.50" y1="720.70" x2="820.50" y2="737.80" stroke="#2a2a2a" stroke-width="1.0" stroke-linecap="butt"/>
<line x1="857.80" y1="720.70" x2="857.80" y2="737.80" stroke="#2a2a2a" stroke-width="1.0" stroke-linecap="butt"/>
<rect x="814.40" y="737.80" width="14.50" height="26.20" rx="0" stroke="#2a2a2a" stroke-width="1.6" fill="none"/>
<rect x="849.60" y="737.80" width="14.40" height="26.20" rx="0" stroke="#2a2a2a" stroke-width="1.6" fill="none"/>
<line x1="814.40" y1="743.50" x2="828.90" y2="743.50" stroke="#2a2a2a" stroke-width="1.3" stroke-linecap="butt"/>
<line x1="849.60" y1="743.50" x2="864.00" y2="743.50" stroke="#2a2a2a" stroke-width="1.3" stroke-linecap="butt"/>
<rect x="834.30" y="720.70" width="9.90" height="42.30" rx="0" stroke="#2a2a2a" stroke-width="1.3" fill="none"/>
<line x1="835.20" y1="720.70" x2="835.20" y2="763.00" stroke="#2a2a2a" stroke-width="2.2" stroke-linecap="butt"/>
<line x1="843.30" y1="720.70" x2="843.30" y2="763.00" stroke="#2a2a2a" stroke-width="2.2" stroke-linecap="butt"/>
<line x1="831.50" y1="720.70" x2="831.50" y2="763.00" stroke="#2a2a2a" stroke-width="1.0" stroke-linecap="butt"/>
<line x1="847.00" y1="720.70" x2="847.00" y2="763.00" stroke="#2a2a2a" stroke-width="1.0" stroke-linecap="butt"/>
<rect x="829.80" y="764.00" width="19.80" height="16.00" rx="0" stroke="#2a2a2a" stroke-width="1.6" fill="#fff"/>
<line x1="829.80" y1="766.50" x2="849.60" y2="766.50" stroke="#2a2a2a" stroke-width="1.1" stroke-linecap="butt"/>
<rect x="817.70" y="764.00" width="9.30" height="16.00" rx="0" stroke="#2a2a2a" stroke-width="1.4" fill="none"/>
<rect x="851.50" y="764.00" width="9.30" height="16.00" rx="0" stroke="#2a2a2a" stroke-width="1.4" fill="none"/>
<line x1="817.70" y1="767.00" x2="827.00" y2="767.00" stroke="#2a2a2a" stroke-width="1.0" stroke-linecap="butt"/>
<line x1="851.50" y1="767.00" x2="860.80" y2="767.00" stroke="#2a2a2a" stroke-width="1.0" stroke-linecap="butt"/>
<line x1="814.00" y1="783.00" x2="864.50" y2="783.00" stroke="#2a2a2a" stroke-width="1.2" stroke-linecap="butt"/>
<line x1="814.00" y1="786.00" x2="864.50" y2="786.00" stroke="#2a2a2a" stroke-width="2.0" stroke-linecap="butt"/>
<path d="M835,714.4 A4,4 0 0 0 843,714.4 Z" stroke="#2a2a2a" stroke-width="0" fill="#222" />
<line x1="815.60" y1="790.00" x2="923.70" y2="790.00" stroke="#686868" stroke-width="1.8" stroke-linecap="butt"/>
<text transform="translate(905.70,781.00) rotate(0) scale(0.9,1)" x="0" y="6.97" font-family="Liberation Serif" font-size="20.5" fill="#2a2a2a" stroke="#2a2a2a" stroke-width="0.35" text-anchor="middle">Ø35</text>
<path d="M748,810 C748,835 765,852.6 790,852.6 C805,852.6 818,850 828,840 C838,828 839,810 838.5,786" stroke="#1e1e1e" stroke-width="13.4" fill="none" stroke-linecap="butt" stroke-linejoin="round"/>
<path d="M748,810 C748,835 765,852.6 790,852.6 C805,852.6 818,850 828,840 C838,828 839,810 838.5,786" stroke="url(#knit)" stroke-width="9.799999999999999" fill="none" stroke-linecap="butt" stroke-linejoin="round"/>
<path d="M748,748 C748,734 758,726 772,726 C790,726 797,738 798,752 C799,778 818,790 821.6,815 L821.6,835" stroke="#1e1e1e" stroke-width="13.4" fill="none" stroke-linecap="butt" stroke-linejoin="round"/>
<path d="M748,748 C748,734 758,726 772,726 C790,726 797,738 798,752 C799,778 818,790 821.6,815 L821.6,835" stroke="url(#knit)" stroke-width="9.799999999999999" fill="none" stroke-linecap="butt" stroke-linejoin="round"/>
<path d="M815.80,783.00 L827.40,783.00 L827.40,873.80 L821.60,869.30 L815.80,873.80 Z" fill="url(#knit)" stroke="#1e1e1e" stroke-width="1.8" stroke-linejoin="miter"/>
<path d="M815.80,885.00 L821.60,880.00 L827.40,885.00 L827.40,946.00 L815.80,946.00 Z" fill="url(#knit)" stroke="#1e1e1e" stroke-width="1.8" stroke-linejoin="miter"/>
<path d="M850.80,783.00 L862.40,783.00 L862.40,873.80 L856.60,869.30 L850.80,873.80 Z" fill="url(#knit)" stroke="#1e1e1e" stroke-width="1.8" stroke-linejoin="miter"/>
<path d="M850.80,885.00 L856.60,880.00 L862.40,885.00 L862.40,946.00 L850.80,946.00 Z" fill="url(#knit)" stroke="#1e1e1e" stroke-width="1.8" stroke-linejoin="miter"/>
<path d="M724.40,745.00 L770.30,745.00 L776.60,764.00 L776.60,790.00 L770.30,810.80 L724.40,810.80 L718.10,790.00 L718.10,764.00 Z" stroke="#2a2a2a" stroke-width="1.6" fill="#fff" />
<line x1="718.10" y1="764.00" x2="776.60" y2="764.00" stroke="#2a2a2a" stroke-width="1.5" stroke-linecap="butt"/>
<line x1="718.10" y1="790.00" x2="776.60" y2="790.00" stroke="#2a2a2a" stroke-width="1.5" stroke-linecap="butt"/>
<rect x="723.50" y="771.10" width="48.60" height="13.50" rx="0" stroke="#2a2a2a" stroke-width="1.6" fill="#fff"/>
<circle cx="732.50" cy="777.80" r="4.50" stroke="#2a2a2a" stroke-width="3.0" fill="none"/>
<circle cx="762.20" cy="777.80" r="4.50" stroke="#2a2a2a" stroke-width="3.0" fill="none"/>
<circle cx="746.90" cy="777.80" r="3.00" stroke="#2a2a2a" stroke-width="1" fill="#888"/>
<rect x="815.75" y="946.00" width="13.00" height="7.70" rx="0" stroke="#2a2a2a" stroke-width="1.3" fill="#fff"/>
<rect x="808.75" y="953.75" width="27.00" height="13.75" rx="0" stroke="#2a2a2a" stroke-width="1.5" fill="#fff"/>
<line x1="814.75" y1="953.75" x2="814.75" y2="967.50" stroke="#2a2a2a" stroke-width="1.1" stroke-linecap="butt"/>
<line x1="829.75" y1="953.75" x2="829.75" y2="967.50" stroke="#2a2a2a" stroke-width="1.1" stroke-linecap="butt"/>
<rect x="849.50" y="946.00" width="13.00" height="7.70" rx="0" stroke="#2a2a2a" stroke-width="1.3" fill="#fff"/>
<rect x="842.50" y="953.75" width="27.00" height="13.75" rx="0" stroke="#2a2a2a" stroke-width="1.5" fill="#fff"/>
<line x1="848.50" y1="953.75" x2="848.50" y2="967.50" stroke="#2a2a2a" stroke-width="1.1" stroke-linecap="butt"/>
<line x1="863.50" y1="953.75" x2="863.50" y2="967.50" stroke="#2a2a2a" stroke-width="1.1" stroke-linecap="butt"/>
<line x1="808.75" y1="967.50" x2="808.75" y2="991.00" stroke="#686868" stroke-width="1.8" stroke-linecap="butt"/>
<line x1="835.00" y1="967.50" x2="835.00" y2="991.00" stroke="#686868" stroke-width="1.8" stroke-linecap="butt"/>
<line x1="731.00" y1="991.00" x2="858.75" y2="991.00" stroke="#686868" stroke-width="1.9" stroke-linecap="butt"/>
<path d="M808.75,991.00 L797.75,993.10 L797.75,988.90 Z" fill="#2a2a2a"/>
<path d="M835.00,991.00 L846.00,988.90 L846.00,993.10 Z" fill="#2a2a2a"/>
<text transform="translate(760.00,981.00) rotate(0) scale(0.9,1)" x="0" y="6.97" font-family="Liberation Serif" font-size="20.5" fill="#2a2a2a" stroke="#2a2a2a" stroke-width="0.35" text-anchor="middle">G 1/2"</text>
<path d="M768.3,929 L779.3,929 L814.4,916" stroke="#686868" stroke-width="1.9" fill="none" />
<path d="M814.40,916.00 L806.69,921.09 L805.23,917.15 Z" fill="#2a2a2a"/>
<text transform="translate(735.30,928.80) rotate(0) scale(0.9,1)" x="0" y="8.33" font-family="Liberation Serif" font-size="24.5" fill="#2a2a2a" stroke="#2a2a2a" stroke-width="0.35" text-anchor="middle">L=450</text>
</svg></body></html>
